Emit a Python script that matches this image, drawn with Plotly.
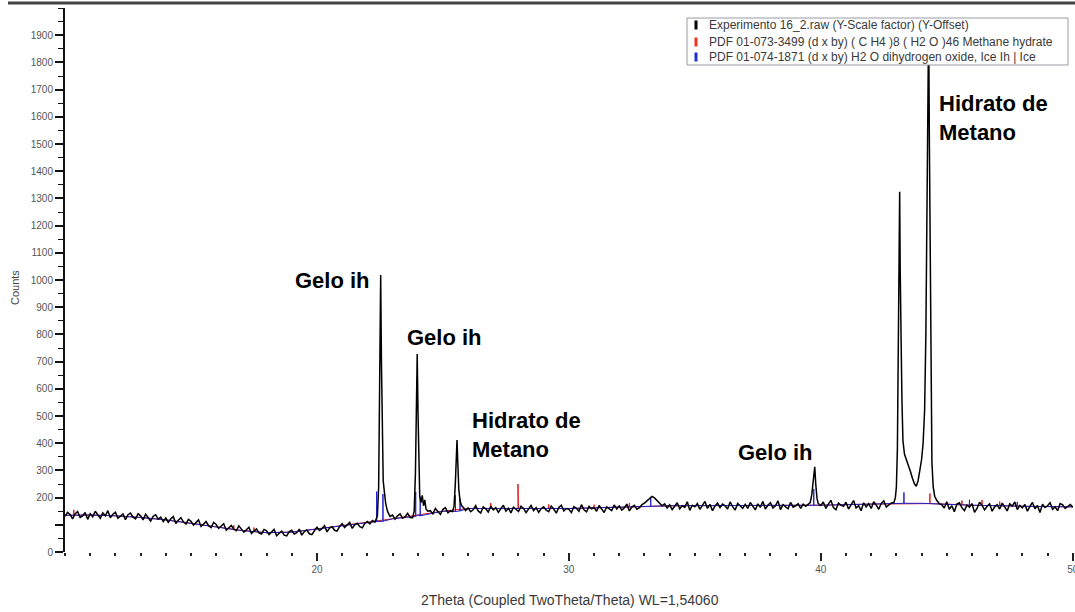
import plotly.graph_objects as go

# ---------------- data ----------------
SCAN_STEP = 0.1  # deg 2theta, uniform scan grid for background segments

# background segment 10.0 .. 22.3
seg_a = [131, 146, 138, 122, 140, 149, 127, 133, 145, 120,
         141, 129, 150, 137, 124, 144, 133, 152, 126, 139,
         146, 124, 131, 140, 119, 137, 143, 128, 122, 141,
         133, 118, 139, 126, 114, 131, 137, 121, 128, 112,
         125, 109, 122, 130, 105, 117, 126, 111, 103, 120,
         113, 99, 108, 118, 94, 104, 112, 97, 90, 109,
         101, 87, 95, 104, 80, 91, 98, 84, 78, 96,
         86, 73, 82, 91, 68, 77, 85, 70, 66, 83,
         78, 64, 73, 83, 60, 70, 77, 62, 59, 75,
         80, 66, 71, 84, 62, 75, 81, 67, 64, 78,
         91, 79, 86, 97, 74, 88, 93, 80, 77, 94,
         104, 90, 99, 109, 87, 100, 106, 93, 89, 105,
         112, 103, 116, 110]
# ice peak ~22.5
p1_x = [22.35, 22.40, 22.45, 22.49, 22.53, 22.56, 22.59, 22.63, 22.68, 22.73, 22.80, 22.90]
p1_y = [121, 133, 240, 620, 1018, 700, 380, 262, 218, 178, 150, 131]
# background 23.0 .. 23.7
seg_b = [136, 121, 133, 140, 124, 130, 142, 127]
# ice peak ~24.0
p2_x = [23.80, 23.86, 23.91, 23.95, 23.98, 24.01, 24.04, 24.08, 24.13, 24.18, 24.23, 24.28, 24.33, 24.40]
p2_y = [126, 150, 290, 590, 728, 520, 300, 205, 182, 208, 170, 192, 158, 150]
# background 24.5 .. 25.3
seg_c = [152, 140, 160, 149, 138, 157, 163, 144, 151]
# hydrate peak ~25.6
p3_x = [25.38, 25.44, 25.49, 25.53, 25.56, 25.59, 25.63, 25.68, 25.74, 25.82, 25.90]
p3_y = [149, 166, 245, 360, 412, 330, 232, 188, 171, 163, 152]
# background 26.0 .. 39.5
seg_d = [162, 148, 155, 170, 151, 143, 166, 159, 147, 168,
         155, 163, 146, 158, 172, 150, 161, 144, 165, 157,
         149, 168, 160, 145, 156, 171, 152, 163, 146, 159,
         166, 154, 148, 169, 158, 143, 164, 172, 151, 160,
         157, 145, 167, 161, 150, 174, 155, 148, 168, 159,
         163, 150, 171, 156, 145, 166, 160, 152, 173, 158,
         169, 154, 162, 176, 151, 165, 172, 157, 163, 174,
         180, 188, 196, 204, 199, 190, 182, 170, 177, 162,
         173, 156, 168, 181, 159, 170, 164, 185, 153, 172,
         166, 178, 157, 171, 186, 160, 175, 152, 169, 180,
         163, 176, 170, 158, 184, 167, 154, 179, 171, 161,
         175, 160, 182, 168, 155, 177, 164, 186, 158, 172,
         181, 162, 170, 188, 156, 174, 167, 159, 183, 165,
         170, 178, 160, 176, 168, 174]
# ice peak ~39.8
p4_x = [39.58, 39.64, 39.69, 39.73, 39.76, 39.80, 39.85, 39.90]
p4_y = [182, 210, 262, 300, 313, 248, 196, 178]
# background 40.0 .. 42.8
seg_e = [171, 184, 160, 176, 190, 163, 155, 180, 172, 168,
         183, 158, 175, 189, 162, 170, 152, 181, 166, 178,
         160, 185, 172, 157, 179, 188, 165, 174, 180]
# double peak 43.1 / 44.3
p5_x = [42.90, 42.96, 43.00, 43.04, 43.08, 43.11, 43.13, 43.15, 43.17, 43.19, 43.22, 43.26,
        43.32, 43.40, 43.48, 43.56, 43.64, 43.72, 43.79, 43.86, 43.93, 44.00, 44.06, 44.12,
        44.17, 44.21, 44.25, 44.28, 44.31, 44.34, 44.37, 44.41, 44.46, 44.52, 44.60, 44.70]
p5_y = [182, 200, 240, 380, 800, 1200, 1324, 1050, 790, 760, 560, 410,
        360, 340, 320, 295, 270, 250, 242, 262, 300, 340, 400, 520,
        800, 1250, 1750, 1950, 1500, 1100, 700, 330, 240, 205, 190, 178]
# background 44.8 .. 50.0
seg_f = [174, 162,
         185, 157, 170, 148, 176, 181, 163, 152, 172, 165,
         178, 146, 160, 183, 171, 155, 168, 177, 150, 166,
         174, 158, 180, 163, 151, 177, 169, 184, 156, 171,
         162, 175, 150, 168, 182, 159, 171, 145, 176, 164,
         170, 181, 157, 166, 152, 178, 173, 160, 168, 175,
         165]

# reference patterns: background track and sticks (position, base level, height)
ref_bg_x = [10, 11, 12, 13, 14, 15, 16, 17, 18, 19, 20, 21, 22, 23, 24, 25, 26, 28, 30,
            32, 34, 36, 38, 40, 42, 44, 46, 48, 50]
ref_bg_y = [135, 136, 133, 127, 118, 106, 92, 79, 71, 73, 85, 97, 110, 122, 136, 150, 160,
            160, 160, 165, 170, 170, 172, 172, 176, 179, 172, 168, 166]
ice_pos = [22.37, 22.62, 23.92, 24.10, 25.50, 25.68, 33.25, 39.72, 43.30, 45.90, 47.80]
ice_base = [112, 113, 131, 133, 149, 151, 168, 172, 179, 172, 169]
ice_h = [110, 100, 90, 70, 60, 45, 30, 60, 40, 20, 15]
hyd_pos = [10.35, 16.70, 17.50, 26.30, 26.90, 27.98, 29.20, 31.00, 32.40, 44.33, 45.60, 46.40, 47.10]
hyd_base = [135, 83, 75, 160, 160, 160, 160, 162, 165, 178, 174, 171, 170]
hyd_h = [20, 15, 15, 15, 20, 90, 15, 12, 15, 37, 15, 20, 15]

legend_texts = ["Experimento 16_2.raw (Y-Scale factor) (Y-Offset)",
                "PDF 01-073-3499 (d x by) ( C H4 )8 ( H2 O )46 Methane hydrate",
                "PDF 01-074-1871 (d x by) H2 O dihydrogen oxide, Ice Ih | Ice"]
legend_colors = ["#000000", "#e8361a", "#1f2fd0"]

peak_labels = ["Gelo ih", "Gelo ih", "Hidrato de<br>Metano", "Gelo ih", "Hidrato de<br>Metano"]
label_x = [19.05, 23.49, 26.07, 36.63, 44.60]
label_y = [1000, 790, 432, 364, 1596]

x_ticks = [20, 30, 40, 50]
y_ticks = list(range(0, 2000, 100))
# ---------------------------------------------------------------


def uniform(start, vals):
    return [round(start + i * SCAN_STEP, 2) for i in range(len(vals))], list(vals)


segments = [uniform(10.0, seg_a), (p1_x, p1_y), uniform(23.0, seg_b), (p2_x, p2_y),
            uniform(24.5, seg_c), (p3_x, p3_y), uniform(26.0, seg_d), (p4_x, p4_y),
            uniform(40.0, seg_e), (p5_x, p5_y), uniform(44.8, seg_f)]
two_theta, counts = [], []
for sx, sy in segments:
    two_theta += list(sx)
    counts += list(sy)


def stick_path(pos, base, h):
    pts = [(bx, by, 0) for bx, by in zip(ref_bg_x, ref_bg_y)]
    for p, b, hh in zip(pos, base, h):
        pts += [(p, b, 1), (p, b + hh, 2), (p, b, 3)]
    pts.sort(key=lambda t: (t[0], t[2]))
    return [t[0] for t in pts], [t[1] for t in pts]


fig = go.Figure()
hx, hy = stick_path(hyd_pos, hyd_base, hyd_h)
fig.add_trace(go.Scatter(x=hx, y=hy, mode="lines", line=dict(color="#e01818", width=1),
                         showlegend=False, hoverinfo="skip"))
ix, iy = stick_path(ice_pos, ice_base, ice_h)
fig.add_trace(go.Scatter(x=ix, y=iy, mode="lines", line=dict(color="#2020c8", width=1),
                         showlegend=False, hoverinfo="skip"))
fig.add_trace(go.Scatter(x=two_theta, y=counts, mode="lines",
                         line=dict(color="#000000", width=1.5), showlegend=False))

PL, PR, PT, PB = 65, 2, 8, 60
W, H = 1075, 612
pw, ph = W - PL - PR, H - PT - PB


def px(xp):
    return (xp - PL) / pw


def py(yp):
    return (H - PB - yp) / ph


shapes = [dict(type="line", xref="paper", yref="paper", x0=px(8), x1=px(1075),
               y0=py(3), y1=py(3), line=dict(color="#444444", width=3), layer="above"),
          dict(type="rect", xref="paper", yref="paper", x0=px(687), x1=px(1068),
               y0=py(65), y1=py(18), fillcolor="white", line=dict(color="#9a9aa8", width=1),
               layer="above")]
annotations = []
row_y = [25, 42, 57]
for t, c, ry in zip(legend_texts, legend_colors, row_y):
    shapes.append(dict(type="line", xref="paper", yref="paper", x0=px(696), x1=px(696),
                       y0=py(ry + 4.5), y1=py(ry - 4.5), line=dict(color=c, width=3),
                       layer="above"))
    annotations.append(dict(xref="paper", yref="paper", x=px(707), y=py(ry), text=t,
                            showarrow=False, xanchor="left", yanchor="middle",
                            font=dict(family="Liberation Sans, Arial", size=12, color="#3a3a3a")))

for t, lx, ly in zip(peak_labels, label_x, label_y):
    annotations.append(dict(x=lx, y=ly, xref="x", yref="y", text="<b>" + t + "</b>",
                            showarrow=False, xanchor="left", yanchor="middle", align="left",
                            font=dict(family="Liberation Sans, Arial", size=22, color="#000000")))

annotations.append(dict(xref="paper", yref="paper", x=px(15), y=py(288), text="Counts",
                        textangle=-90, showarrow=False, xanchor="center", yanchor="middle",
                        font=dict(family="Liberation Sans, Arial", size=11, color="#444444")))
annotations.append(dict(xref="paper", yref="paper", x=px(570), y=py(600),
                        text="2Theta (Coupled TwoTheta/Theta) WL=1,54060",
                        showarrow=False, xanchor="center", yanchor="middle",
                        font=dict(family="Liberation Sans, Arial", size=14, color="#3a3a3a")))

fig.update_layout(
    width=W, height=H, margin=dict(l=PL, r=PR, t=PT, b=PB, autoexpand=False),
    paper_bgcolor="white", plot_bgcolor="white",
    shapes=shapes, annotations=annotations, showlegend=False,
    xaxis=dict(range=[10, 50.01], tickvals=x_ticks, ticks="outside", ticklen=8,
               tickwidth=1.5, tickcolor="#222222", showline=False, showgrid=False,
               zeroline=False, ticklabeloverflow="allow",
               tickfont=dict(family="Liberation Sans, Arial", size=10, color="#555555"),
               minor=dict(dtick=1, tick0=10, ticks="outside", ticklen=3, tickwidth=2,
                          tickcolor="#222222", showgrid=False)),
    yaxis=dict(range=[0, 2000], tickvals=y_ticks,
               ticktext=["" if v == 100 else str(v) for v in y_ticks],
               ticks="outside", ticklen=8, tickwidth=1.5, tickcolor="#111111",
               showline=True, linewidth=2, linecolor="#111111", showgrid=False, zeroline=False,
               tickfont=dict(family="Liberation Sans, Arial", size=10, color="#555555"),
               minor=dict(dtick=50, ticks="outside", ticklen=5, tickwidth=1,
                          tickcolor="#111111", showgrid=False)),
)

fig.write_html("out.html", config={"displayModeBar": False},
               post_script="document.body.style.margin='0';document.body.style.padding='0';")
